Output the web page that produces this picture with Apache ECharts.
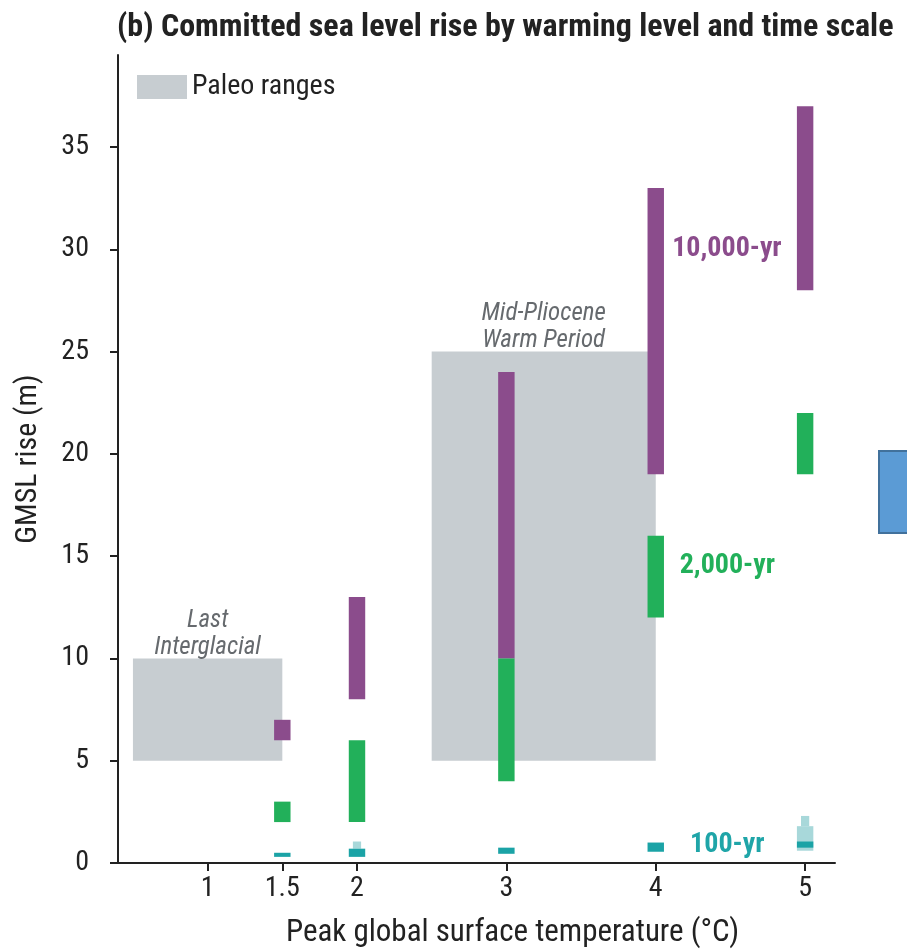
<!DOCTYPE html>
<html>
<head>
<meta charset="utf-8">
<script src="https://cdn.jsdelivr.net/npm/echarts@6/dist/echarts.min.js"></script>
<style>html,body{margin:0;padding:0;background:#fff}#main{width:907px;height:950px}</style>
</head>
<body>
<div id="main"></div>
<script>
/* committed GMSL rise, ranges in metres */
var temps = [1.5, 2, 3, 4, 5];
var range10000 = [[6, 7], [8, 13], [10, 24], [19, 33], [28, 37]];
var range2000 = [[2, 3], [2, 6], [4, 10], [12, 16], [19, 22]];
var range100 = [[0.3, 0.5], [0.3, 0.7], [0.45, 0.75], [0.55, 1.0], [0.75, 1.05]];
// light teal uncertainty for 100-yr
var range100Wide = [null, null, null, null, [0.6, 1.8]];
var range100Tail = [null, [0.7, 1.05], null, null, [1.8, 2.3]];

/* paleo boxes */
var paleoNames = ['Last\nInterglacial', 'Mid-Pliocene\nWarm Period'];
var paleoTemp = [[0.5, 1.5], [2.5, 4.0]];
var paleoRise = [[5, 10], [5, 25]];

var xTicks = [1, 1.5, 2, 3, 4, 5];
var yTicks = [0, 5, 10, 15, 20, 25, 30, 35];

var FONT = '"Roboto Condensed", "Liberation Sans", sans-serif';

function toBars(ranges) {
    var out = [];
    ranges.forEach(function (r, i) {
        if (r) out.push([temps[i], r[0], r[1]]);
    });
    return out;
}

function barRender(w) {
    return function (params, api) {
        var x = api.value(0);
        var p0 = api.coord([x - w / 2, api.value(2)]);
        var p1 = api.coord([x + w / 2, api.value(1)]);
        return {
            type: 'rect',
            shape: {x: p0[0], y: p0[1], width: p1[0] - p0[0], height: p1[1] - p0[1]},
            style: {fill: api.visual('color')}
        };
    };
}

function barSeries(name, ranges, color, w) {
    return {
        name: name,
        type: 'custom',
        renderItem: barRender(w),
        itemStyle: {color: color},
        encode: {x: 0, y: [1, 2]},
        data: toBars(ranges),
        z: 3
    };
}

var paleoData = paleoNames.map(function (n, i) {
    return [paleoTemp[i][0], paleoTemp[i][1], paleoRise[i][0], paleoRise[i][1]];
});

function labelSeries(text, pos, color) {
    return {
        type: 'scatter',
        symbolSize: 0,
        data: [pos],
        silent: true,
        itemStyle: {opacity: 1},
        label: {
            show: true,
            position: 'right',
            distance: 0,
            formatter: text,
            color: color,
            opacity: 1,
            fontFamily: FONT,
            fontWeight: 'bold',
            fontSize: 28
        },
        z: 4
    };
}

var option = {
    animation: false,
    title: {
        text: '(b) Committed sea level rise by warming level and time scale',
        left: 112,
        top: 7,
        textStyle: {fontFamily: FONT, fontWeight: 'bold', fontSize: 32, color: '#222'}
    },
    legend: {
        data: ['Paleo ranges'],
        left: 137,
        top: 73,
        padding: 0,
        itemWidth: 50,
        itemHeight: 24,
        icon: 'rect',
        textStyle: {fontFamily: FONT, fontSize: 28, color: '#222'}
    },
    grid: {left: 118, right: 72, top: 55, bottom: 87, outerBoundsMode: 'none'},
    xAxis: {
        type: 'value',
        min: 0.4,
        max: 5.2,
        name: 'Peak global surface temperature (°C)',
        nameLocation: 'middle',
        nameGap: 55,
        nameTextStyle: {fontFamily: FONT, fontSize: 31, color: '#222', padding: [0, 0, 0, 72]},
        axisLine: {lineStyle: {color: '#222', width: 2}},
        axisTick: {show: true, length: 8, lineStyle: {color: '#222', width: 2}, customValues: xTicks},
        axisLabel: {customValues: xTicks, fontFamily: FONT, fontSize: 28, color: '#222', margin: 12},
        splitLine: {show: false}
    },
    yAxis: {
        type: 'value',
        min: 0,
        max: 39.5,
        name: 'GMSL rise (m)',
        nameLocation: 'middle',
        nameGap: 75,
        nameTextStyle: {fontFamily: FONT, fontSize: 30, color: '#222'},
        axisLine: {show: true, lineStyle: {color: '#222', width: 2}},
        axisTick: {show: true, length: 8, lineStyle: {color: '#222', width: 2}, customValues: yTicks},
        axisLabel: {customValues: yTicks, fontFamily: FONT, fontSize: 28, color: '#222', margin: 29},
        splitLine: {show: false}
    },
    series: [
        {
            name: 'Paleo ranges',
            type: 'custom',
            itemStyle: {color: '#C7CDD1'},
            encode: {x: [0, 1], y: [2, 3]},
            data: paleoData,
            renderItem: function (params, api) {
                var p0 = api.coord([api.value(0), api.value(3)]);
                var p1 = api.coord([api.value(1), api.value(2)]);
                return {
                    type: 'group',
                    children: [
                        {
                            type: 'rect',
                            shape: {x: p0[0], y: p0[1], width: p1[0] - p0[0], height: p1[1] - p0[1]},
                            style: {fill: api.visual('color')}
                        },
                        {
                            type: 'text',
                            style: {
                                text: paleoNames[params.dataIndex],
                                x: (p0[0] + p1[0]) / 2,
                                y: p0[1] + 3,
                                align: 'center',
                                verticalAlign: 'bottom',
                                fill: '#666a6e',
                                fontFamily: FONT,
                                fontStyle: 'italic',
                                fontSize: 25,
                                lineHeight: 27
                            }
                        }
                    ]
                };
            },
            z: 1
        },
        barSeries('100-yr light wide', range100Wide, '#A8D8DA', 0.11),
        barSeries('100-yr light tail', range100Tail, '#A8D8DA', 0.055),
        barSeries('10,000-yr', range10000, '#8B4C8C', 0.11),
        barSeries('2,000-yr', range2000, '#22B05A', 0.11),
        barSeries('100-yr', range100, '#1BA3A6', 0.11),
        labelSeries('10,000-yr', [4.11, 30], '#8B4C8C'),
        labelSeries('2,000-yr', [4.16, 14.5], '#22B05A'),
        labelSeries('100-yr', [4.23, 0.9], '#1FA5A8')
    ],
    graphic: [
        {
            type: 'rect',
            left: 878,
            top: 450,
            shape: {width: 40, height: 82},
            style: {fill: '#5B9BD5', stroke: '#41719C', lineWidth: 2}
        }
    ]
};

var chart = echarts.init(document.getElementById('main'));
chart.setOption(option);
</script>
</body>
</html>
